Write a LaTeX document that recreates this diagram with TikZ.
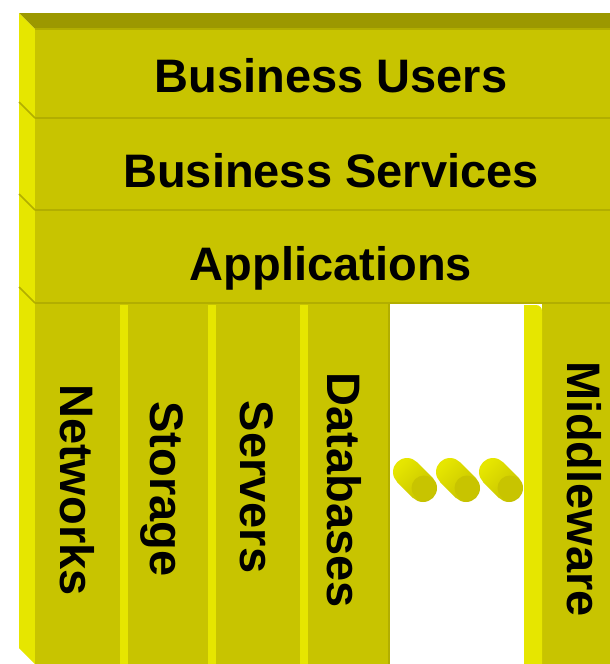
\documentclass[tikz,border=0pt]{standalone}
\usepackage{fontspec}
\setmainfont{Liberation Sans}
\usepackage{tikz}
\usetikzlibrary{positioning}

\definecolor{front}{RGB}{200,196,0}
\definecolor{side}{RGB}{230,230,0}
\definecolor{topface}{RGB}{156,152,0}
\definecolor{seamcol}{RGB}{178,174,0}
\definecolor{cyldark}{RGB}{196,192,0}

\tikzset{
  seam/.style={draw=seamcol,line width=2.5pt},
  layer/.style={font=\fontsize{47}{50}\selectfont\bfseries,anchor=base,inner sep=0pt},
  pillar/.style={layer,rotate=-90},
  cylbody/.style={top color=side,bottom color=cyldark,shading angle=45},
}

\begin{document}
\begin{tikzpicture}[x=1pt,y=-1pt]
			\useasboundingbox (0,0) rectangle (610,664);
			% top and left faces
			\fill[topface] (19,13) -- (610,13) -- (610,29) -- (35,29) -- cycle;
			\fill[side] (19,13) -- (35,29) -- (35,664) -- (19,648) -- cycle;
			% front faces
			\fill[front] (35,29) rectangle (610,303);
			\fill[front] (35,303) rectangle (390,664);
			\fill[front] (542,303) rectangle (610,664);
			% layer seams
			\draw[seam,line width=2pt] (35,29) -- (610,29);
			\foreach \y in {118,210,303}{
			  \draw[seam] (35,\y) -- (610,\y);
			  \draw[seamcol,line width=1.5pt] (19,\y-16) -- (35,\y);
			}
			\draw[seam,line width=1.5pt] (389,303) -- (389,664);
			% column strips
			\foreach \a/\b in {120/128,208/216,300/308}
			  \fill[side] (\a,305) rectangle (\b,664);
			\fill[side] (524,305) -- (536,305) to[out=0,in=90] (542,311) -- (542,664) -- (524,664) -- cycle;

			\node[layer] (users) at (331,92) {Business Users};
			\node[layer] (services) at (331,187) {Business Services};
			\node[layer] (apps) at (331,280) {Applications};

			\node[pillar] (networks) at (60,490) {Networks};
			\node[pillar] (storage) at (150,489) {Storage};
			\node[pillar] (servers) at (240,487) {Servers};
			\node[pillar] (databases) at (327,490) {Databases};
			\node[pillar] (middleware) at (567,489) {Middleware};

			% the dots
			\foreach \i in {0,1,2}{
			  \begin{scope}[xshift=43*\i]
			  \shade[cylbody] (407,472) circle (14) (423,488) circle (14)
			    (417,462) -- (433,478) -- (413,498) -- (397,482) -- cycle;
			  \fill[front] (424,488) circle (12.5);
			  \end{scope}
			}
\end{tikzpicture}
\end{document}
